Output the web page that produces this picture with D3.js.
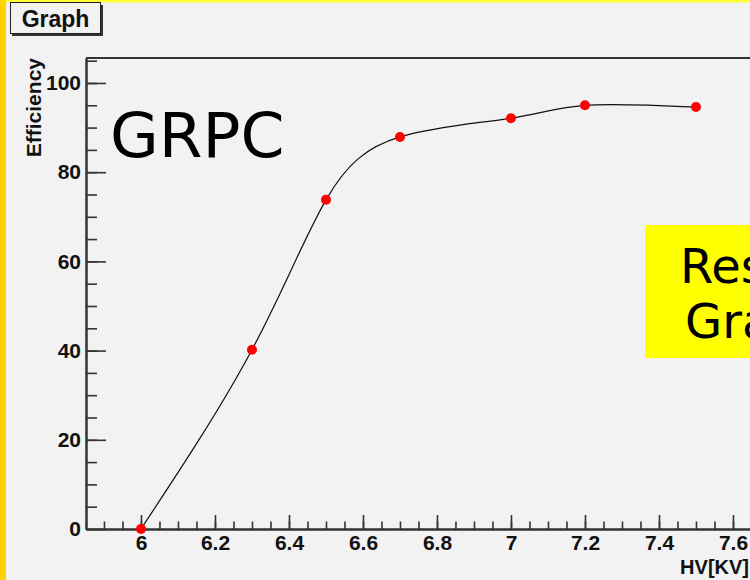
<!DOCTYPE html>
<html>
<head>
<meta charset="utf-8">
<script src="https://cdn.jsdelivr.net/npm/d3@7"></script>
<style>
  html, body { margin: 0; padding: 0; background: #f2f2f2; }
  svg { display: block; }
  .bold { font-family: "Liberation Sans", Arial, sans-serif; font-weight: bold; }
</style>
</head>
<body>
<svg id="chart" width="750" height="580"></svg>
<script>
// GRPC efficiency vs high voltage (ROOT-style canvas)
const hv  = [6.0, 6.3, 6.5, 6.7, 7.0, 7.2, 7.5];
const eff = [0.0, 40.2, 73.8, 87.9, 92.1, 95.0, 94.6];
const xMajor = [6.0, 6.2, 6.4, 6.6, 6.8, 7.0, 7.2, 7.4, 7.6];
const yMajor = [0, 20, 40, 60, 80, 100];

const W = 750, H = 580;
const AX = "#333";
const svg = d3.select("#chart");

// canvas + yellow frame
svg.append("rect").attr("width", W).attr("height", H).attr("fill", "#f2f2f2");
svg.append("rect").attr("x", 0).attr("y", 0).attr("width", W).attr("height", 2.5).attr("fill", "#ffff33");
svg.append("rect").attr("x", 0).attr("y", 0).attr("width", 6).attr("height", H).attr("fill", "#ffd400");

// scales: pad spans 86..~770 horizontally, 58..529 vertically
const x = d3.scaleLinear([5.8514, 7.7], [86, 86 + 1.8486 * 370]);
const y = d3.scaleLinear([0, 105.6], [529, 58]);

// frame top
svg.append("line").attr("x1", 86).attr("x2", W + 20).attr("y1", 58).attr("y2", 58)
  .attr("stroke", AX).attr("stroke-width", 2);

// x axis (ticks inward)
const xMinor = d3.range(5.9, 7.7, 0.05).map(v => +v.toFixed(2));
const gxm = svg.append("g").attr("transform", "translate(0,529)")
  .call(d3.axisBottom(x).tickValues(xMinor).tickSize(-7.5).tickSizeOuter(0).tickFormat(""));
const gx = svg.append("g").attr("transform", "translate(0,529)")
  .call(d3.axisBottom(x).tickValues(xMajor).tickSize(-14).tickSizeOuter(0).tickPadding(6)
    .tickFormat(d3.format("~g")));
gx.selectAll("text").attr("class", "bold").attr("font-size", 21).attr("fill", "#111");

// y axis
const yMinor = d3.range(5, 106, 5);
const gym = svg.append("g").attr("transform", "translate(86,0)")
  .call(d3.axisLeft(y).tickValues(yMinor).tickSize(-11).tickSizeOuter(0).tickFormat(""));
const gy = svg.append("g").attr("transform", "translate(86,0)")
  .call(d3.axisLeft(y).tickValues(yMajor).tickSize(-20).tickSizeOuter(0).tickPadding(5));
gy.selectAll("text").attr("class", "bold").attr("font-size", 21).attr("fill", "#111");

[gxm, gx, gym, gy].forEach(g => {
  g.select(".domain").attr("stroke", AX).attr("stroke-width", 2);
  g.selectAll(".tick line").attr("stroke", AX).attr("stroke-width", 1.6);
});

// axis titles
svg.append("text").attr("class", "bold").attr("font-size", 21).attr("fill", "#111")
  .attr("text-anchor", "end").attr("transform", "translate(41,58) rotate(-90)")
  .text("Efficiency");
svg.append("text").attr("class", "bold").attr("font-size", 20).attr("fill", "#111")
  .attr("text-anchor", "end").attr("x", 749).attr("y", 574).text("HV[KV]");

// smooth curve through points
const pts = hv.map((v, i) => [v, eff[i]]);
svg.append("path").datum(pts)
  .attr("d", d3.line().x(d => x(d[0])).y(d => y(d[1])).curve(d3.curveNatural))
  .attr("fill", "none").attr("stroke", "#111").attr("stroke-width", 1.2);
svg.append("g").selectAll("circle").data(pts).join("circle")
  .attr("cx", d => x(d[0])).attr("cy", d => y(d[1])).attr("r", 5).attr("fill", "#ff0000");

// "Graph" title box
svg.append("rect").attr("x", 12).attr("y", 5).attr("width", 91).attr("height", 31).attr("fill", "#333");
svg.append("rect").attr("x", 10.5).attr("y", 2.5).attr("width", 90).attr("height", 31)
  .attr("fill", "#f2f2f2").attr("stroke", "#222").attr("stroke-width", 1);
svg.append("text").attr("class", "bold").attr("font-size", 23).attr("fill", "#111")
  .attr("text-anchor", "middle").attr("x", 55.5).attr("y", 27).text("Graph");

// GRPC label
svg.append("text").attr("font-family", "DejaVu Sans").attr("font-size", 63).attr("fill", "#000")
  .attr("x", 110).attr("y", 157).text("GRPC");

// yellow note box (cut by the canvas edge)
svg.append("rect").attr("x", 645).attr("y", 225).attr("width", 130).attr("height", 133).attr("fill", "#ffff00");
svg.append("text").attr("font-family", "DejaVu Sans").attr("font-size", 48).attr("fill", "#000")
  .attr("x", 680).attr("y", 283).text("Result");
svg.append("text").attr("font-family", "DejaVu Sans").attr("font-size", 48).attr("fill", "#000")
  .attr("x", 685).attr("y", 338).text("Graph");
</script>
</body>
</html>
